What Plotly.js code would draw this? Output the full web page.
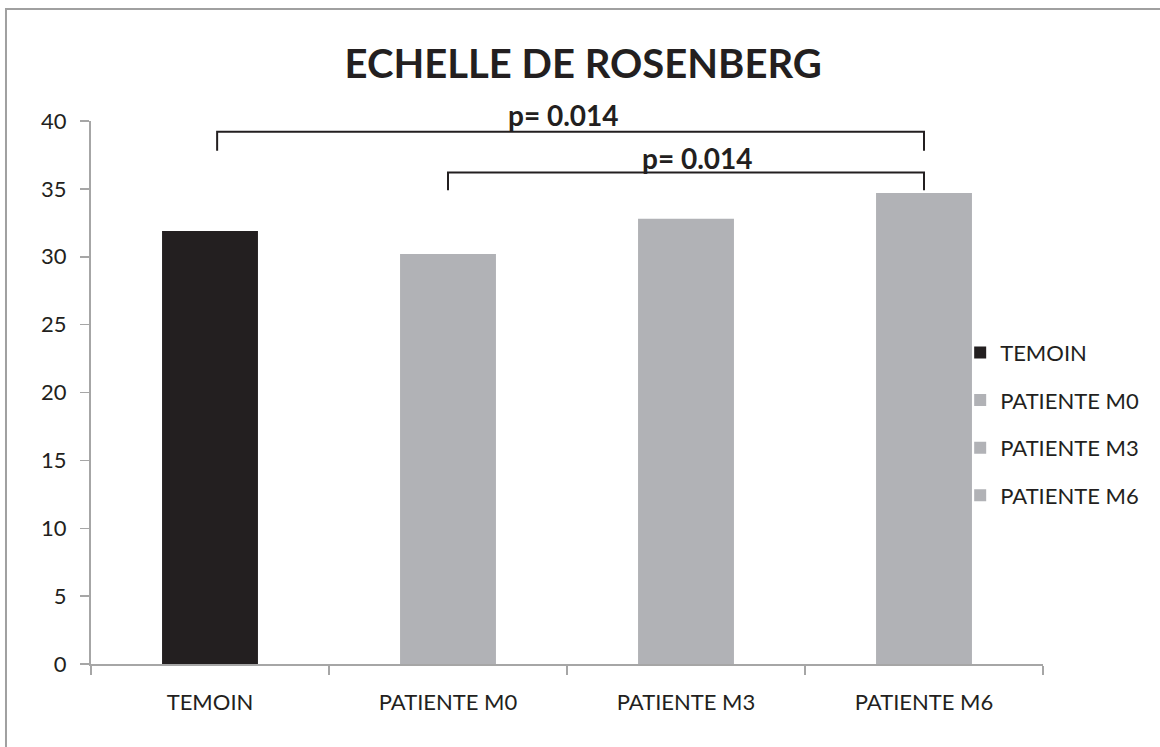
<!DOCTYPE html>
<html>
<head>
<meta charset="utf-8">
<script src="https://cdn.plot.ly/plotly-3.0.1.min.js"></script>
<style>
  html, body { margin: 0; padding: 0; background: #ffffff; }
  #chart { width: 1160px; height: 747px; }
</style>
</head>
<body>
<div id="chart"></div>
<script>
// ---- data ----
const categories = ["TEMOIN", "PATIENTE M0", "PATIENTE M3", "PATIENTE M6"];
const values = [31.9, 30.2, 32.8, 34.7];
const barColors = ["#231f20", "#b1b2b6", "#b1b2b6", "#b1b2b6"];
const yTickVals = [0, 5, 10, 15, 20, 25, 30, 35, 40];
const yMax = 40;

// significance brackets (category-index positions, y levels in axis units)
const bracketX0 = [0.03, 1.0];
const bracketX1 = [3.0, 3.0];
const bracketTop = [39.2, 36.2];
const bracketBottom = [37.8, 34.9];
const pLabels = ["p= 0.014", "p= 0.014"];
const pLabelX = [1.485, 2.05];
const pLabelY = [40.45, 37.3];

const FONT = "Lato, 'Open Sans', sans-serif";
const TXT = "#231f20";
const AXIS = "#a6a6a6";

const traces = categories.map((c, i) => ({
  type: "bar",
  name: c,
  x: [c],
  y: [values[i]],
  marker: { color: barColors[i], line: { width: 0 } },
  legendgroup: "g" + i,
  hoverinfo: "x+y"
}));

const shapes = [];
for (let i = 0; i < bracketX0.length; i++) {
  shapes.push({
    type: "path", xref: "x", yref: "y",
    path: `M ${bracketX0[i]},${bracketBottom[i]} L ${bracketX0[i]},${bracketTop[i]} L ${bracketX1[i]},${bracketTop[i]} L ${bracketX1[i]},${bracketBottom[i]}`,
    line: { color: TXT, width: 2 }
  });
}
// outer chart-area frame (top and left edges visible)
shapes.push({
  type: "rect", xref: "paper", yref: "paper",
  x0: -0.0893, x1: 1.3, y0: -0.3, y1: 1.2063,
  line: { color: "#a0a0a0", width: 2 }, fillcolor: "rgba(0,0,0,0)", layer: "below"
});

// p-value labels: y given in axis units, placed via paper fraction of the y range
const annotations = pLabels.map((t, i) => ({
  x: pLabelX[i], y: pLabelY[i] / yMax, xref: "x", yref: "paper",
  text: "<b>" + t + "</b>", showarrow: false,
  xanchor: "center", yanchor: "middle",
  font: { family: FONT, size: 28, color: TXT }
}));

const layout = {
  width: 1160, height: 747,
  margin: { l: 91, r: 117, t: 121, b: 83, pad: 0 },
  paper_bgcolor: "#ffffff", plot_bgcolor: "#ffffff",
  title: {
    text: "<b>ECHELLE DE ROSENBERG</b>",
    x: 0.517, xanchor: "center", xref: "paper",
    y: 0.914, yanchor: "middle",
    font: { family: FONT, size: 40, color: TXT }
  },
  barmode: "overlay",
  bargap: 0.597,
  xaxis: {
    type: "category",
    categoryorder: "array", categoryarray: categories,
    range: [-0.5, 3.5],
    tickson: "boundaries",
    ticks: "outside", ticklen: 9, tickcolor: AXIS, tickwidth: 1.5,
    showline: true, linecolor: AXIS, linewidth: 2,
    showgrid: false, zeroline: false,
    tickfont: { family: FONT, size: 22, color: TXT },
    ticklabelstandoff: 18
  },
  yaxis: {
    range: [0, yMax],
    tickvals: yTickVals,
    ticks: "outside", ticklen: 9, tickcolor: AXIS, tickwidth: 1.5,
    showline: true, linecolor: AXIS, linewidth: 2,
    showgrid: false, zeroline: false,
    tickfont: { family: FONT, size: 22, color: TXT },
    ticklabelstandoff: 9
  },
  showlegend: true,
  legend: {
    x: 0.913, xanchor: "left", y: 0.612, yanchor: "top",
    traceorder: "grouped", tracegroupgap: 16,
    font: { family: FONT, size: 22, color: TXT },
    bgcolor: "rgba(0,0,0,0)", borderwidth: 0
  },
  shapes: shapes,
  annotations: annotations
};

Plotly.newPlot("chart", traces, layout, { displayModeBar: false, staticPlot: true });
</script>
</body>
</html>
